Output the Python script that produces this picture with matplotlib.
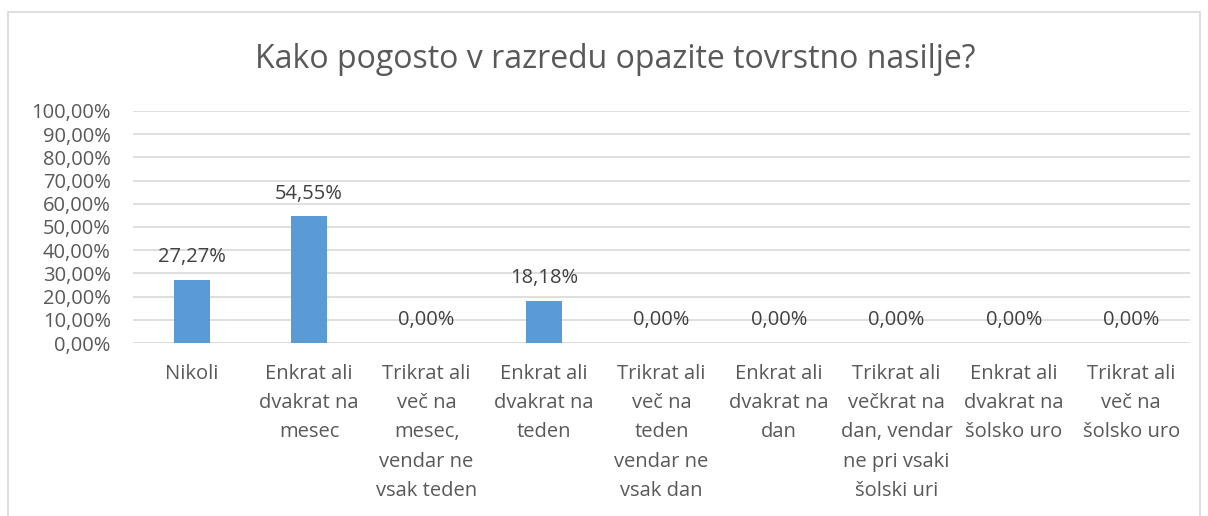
import matplotlib.pyplot as plt
import matplotlib.patches as patches
from matplotlib.ticker import FuncFormatter

categories = [
    "Nikoli",
    "Enkrat ali\ndvakrat na\nmesec",
    "Trikrat ali\nveč na\nmesec,\nvendar ne\nvsak teden",
    "Enkrat ali\ndvakrat na\nteden",
    "Trikrat ali\nveč na\nteden\nvendar ne\nvsak dan",
    "Enkrat ali\ndvakrat na\ndan",
    "Trikrat ali\nvečkrat na\ndan, vendar\nne pri vsaki\nšolski uri",
    "Enkrat ali\ndvakrat na\nšolsko uro",
    "Trikrat ali\nveč na\nšolsko uro",
]
values = [27.27, 54.55, 0.0, 18.18, 0.0, 0.0, 0.0, 0.0, 0.0]
title = "Kako pogosto v razredu opazite tovrstno nasilje?"

plt.rcParams['font.family'] = ['Open Sans', 'DejaVu Sans']
txt = '#595959'
grid = '#d9d9d9'
fs = 14.5

fig = plt.figure(figsize=(12.08, 5.16), dpi=100)
fig.patches.append(patches.Rectangle((8/1208, -0.1), 1192/1208, 1.1 - 12/516,
                                     transform=fig.transFigure, fill=False,
                                     edgecolor=grid, linewidth=1.2))
ax = fig.add_axes([133/1208, 1 - 343/516, 1057/1208, 232/516])

x = range(len(categories))
ax.bar(x, values, width=0.31, color='#5b9bd5', zorder=3)
for i, v in zip(x, values):
    ax.annotate(f"{v:.2f}%".replace('.', ','), (i, v), xytext=(0, 9),
                textcoords='offset points', ha='center', va='bottom',
                fontsize=fs, color='#404040', zorder=4)

ax.set_xlim(-0.5, len(categories) - 0.5)
ax.set_ylim(0, 100)
ax.set_yticks(range(0, 101, 10))
ax.yaxis.set_major_formatter(FuncFormatter(lambda v, p: f"{v:.2f}%".replace('.', ',')))
ax.set_xticks(list(x))
ax.set_xticklabels(categories, fontsize=fs, color=txt, linespacing=1.62)
ax.tick_params(axis='y', labelsize=fs, labelcolor=txt, length=0, pad=16)
ax.tick_params(axis='x', length=0, pad=15)
ax.grid(axis='y', color=grid, linewidth=1.2, zorder=0)
for s in ax.spines.values():
    s.set_visible(False)

fig.text(615/1208, 1 - 60/516, title, ha='center', va='center', fontsize=23, color=txt)

fig.savefig('out.png', dpi=100)
